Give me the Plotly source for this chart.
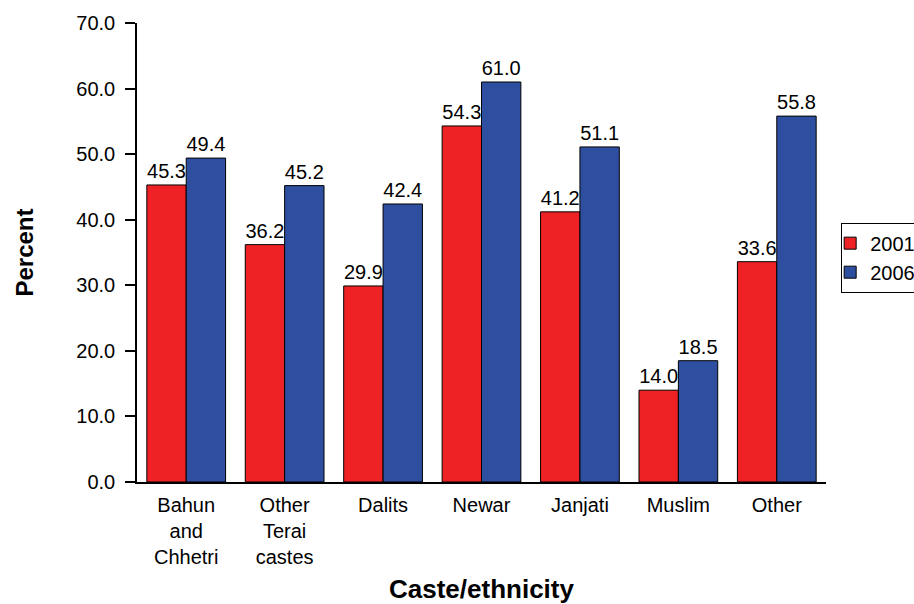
import plotly.graph_objects as go

categories = ["Bahun<br>and<br>Chhetri", "Other<br>Terai<br>castes", "Dalits", "Newar",
              "Janjati", "Muslim", "Other"]
values_2001 = [45.3, 36.2, 29.9, 54.3, 41.2, 14.0, 33.6]
values_2006 = [49.4, 45.2, 42.4, 61.0, 51.1, 18.5, 55.8]
y_ticks = [0, 10, 20, 30, 40, 50, 60, 70]

FONT = "Liberation Sans, Arial, sans-serif"
RED = "#EE2224"
BLUE = "#2E4F9F"

fig = go.Figure()
for name, vals, color in [("2001", values_2001, RED), ("2006", values_2006, BLUE)]:
    fig.add_trace(go.Bar(
        name=name, x=categories, y=vals,
        marker=dict(color=color, line=dict(color="black", width=1)),
        text=[f"{v:.1f}" for v in vals], textposition="outside",
        textfont=dict(family=FONT, size=20, color="black"),
        cliponaxis=False,
    ))

fig.update_layout(
    width=914, height=604,
    paper_bgcolor="white", plot_bgcolor="white",
    barmode="group", bargap=0.2, bargroupgap=0,
    margin=dict(l=137, r=88, t=23, b=122, autoexpand=False),
    font=dict(family=FONT, size=20, color="black"),
    legend=dict(x=1.022, y=0.565, xanchor="left", yanchor="top",
                bordercolor="black", borderwidth=1, font=dict(size=20),
                indentation=-12, itemwidth=30),
    showlegend=True,
)
fig.update_xaxes(
    showline=True, linecolor="black", linewidth=1.5, ticks="", range=[-0.5, 6.5],
    tickfont=dict(size=20), ticklabelstandoff=4,
    title=dict(text="<b>Caste/ethnicity</b>", font=dict(size=26), standoff=16),
)
fig.update_yaxes(
    range=[0, 70], tickvals=y_ticks, tickformat=".1f",
    showline=True, linecolor="black", linewidth=1.5, showgrid=False, zeroline=False,
    ticks="outside", ticklen=10, tickcolor="black", tickwidth=1.5,
    tickfont=dict(size=20), ticklabelstandoff=6,
    title=dict(text="<b>Percent</b>", font=dict(size=24), standoff=36),
)

fig.write_html("out.html")
